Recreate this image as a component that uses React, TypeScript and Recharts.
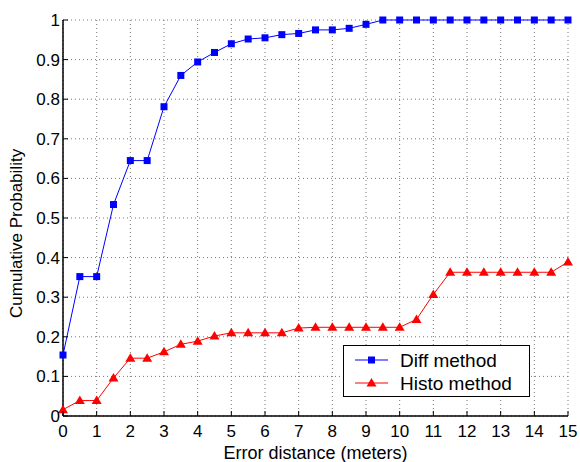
import React from 'react';
import { LineChart, Line, XAxis, YAxis, CartesianGrid } from 'recharts';

const distances = [0, 0.5, 1, 1.5, 2, 2.5, 3, 3.5, 4, 4.5, 5, 5.5, 6, 6.5, 7, 7.5, 8, 8.5, 9, 9.5, 10, 10.5, 11, 11.5, 12, 12.5, 13, 13.5, 14, 14.5, 15];
const diffMethod = [0.154, 0.352, 0.352, 0.534, 0.645, 0.645, 0.781, 0.86, 0.894, 0.918, 0.94, 0.952, 0.955, 0.963, 0.966, 0.975, 0.975, 0.979, 0.989, 1, 1, 1, 1, 1, 1, 1, 1, 1, 1, 1, 1];
const histoMethod = [0.016, 0.039, 0.039, 0.096, 0.146, 0.146, 0.162, 0.181, 0.189, 0.202, 0.21, 0.21, 0.21, 0.21, 0.222, 0.224, 0.224, 0.224, 0.224, 0.224, 0.224, 0.244, 0.307, 0.363, 0.363, 0.363, 0.363, 0.363, 0.363, 0.363, 0.389];
const xTicks = [0, 1, 2, 3, 4, 5, 6, 7, 8, 9, 10, 11, 12, 13, 14, 15];
const yTicks = [0, 0.1, 0.2, 0.3, 0.4, 0.5, 0.6, 0.7, 0.8, 0.9, 1];

const rows = distances.map((d, i) => ({ d, diff: diffMethod[i], histo: histoMethod[i] }));

const FONT = '"Liberation Sans", Arial, sans-serif';
const TICK_LEN = 5;

const fmtY = (v: number) => (v === 0 ? '0' : v === 1 ? '1' : v.toFixed(1));

// MATLAB-ish ticks: marks point inward
const BottomTick = (props: any) => {
  const { x, y, payload } = props;
  const axisY = y - 4;
  return (
    <g>
      <line x1={x} y1={axisY} x2={x} y2={axisY - TICK_LEN} stroke="#000" />
      <text x={x} y={axisY + 21} textAnchor="middle" fontSize={17} fontFamily={FONT} fill="#000">
        {payload.value}
      </text>
    </g>
  );
};

const LeftTick = (props: any) => {
  const { x, y, payload } = props;
  const axisX = x + 3;
  return (
    <g>
      <line x1={axisX} y1={y} x2={axisX + TICK_LEN} y2={y} stroke="#000" />
      <text x={axisX - 3} y={y + 6} textAnchor="end" fontSize={17} fontFamily={FONT} fill="#000">
        {fmtY(payload.value)}
      </text>
    </g>
  );
};

const TopTick = (props: any) => {
  const { x, y } = props;
  return <line x1={x} y1={y} x2={x} y2={y + TICK_LEN} stroke="#000" />;
};

const RightTick = (props: any) => {
  const { x, y } = props;
  return <line x1={x} y1={y} x2={x - TICK_LEN} y2={y} stroke="#000" />;
};

const Square = (props: any) => {
  const { cx, cy } = props;
  if (cx == null || cy == null) return null;
  return <rect x={cx - 3.5} y={cy - 3.5} width={7} height={7} fill="#0000ff" />;
};

const Triangle = (props: any) => {
  const { cx, cy } = props;
  if (cx == null || cy == null) return null;
  return <path d={`M${cx},${cy - 5} L${cx + 5},${cy + 3.5} L${cx - 5},${cy + 3.5} Z`} fill="#ff0000" />;
};

const LegendBox = () => (
  <div
    style={{
      position: 'absolute',
      left: 343,
      top: 345,
      width: 187,
      height: 52,
      border: '1.5px solid #000',
      background: '#fff',
      boxSizing: 'border-box',
    }}
  >
    <svg width={184} height={49} style={{ display: 'block' }}>
      <line x1={11} y1={14} x2={44} y2={14} stroke="#0000ff" />
      <rect x={24} y={10.5} width={7} height={7} fill="#0000ff" />
      <text x={56} y={21} fontSize={19} fontFamily={FONT}>Diff method</text>
      <line x1={11} y1={37} x2={44} y2={37} stroke="#ff0000" />
      <path d="M27.5,32 L32.5,40.5 L22.5,40.5 Z" fill="#ff0000" />
      <text x={56} y={44} fontSize={19} fontFamily={FONT}>Histo method</text>
    </svg>
  </div>
);

export default function App() {
  return (
    <div style={{ position: 'absolute', left: 0, top: 0, width: 580, height: 462, background: '#fff' }}>
      <LineChart width={580} height={462} data={rows} margin={{ top: 20, right: 12, bottom: 6, left: 13 }}>
        <CartesianGrid xAxisId="b" yAxisId="l" stroke="#777" strokeDasharray="1 3" />
        <XAxis
          xAxisId="b"
          dataKey="d"
          type="number"
          domain={[0, 15]}
          ticks={xTicks}
          interval={0}
          height={40}
          tickSize={0}
          tickMargin={4}
          tick={<BottomTick />}
          axisLine={{ stroke: '#000', strokeWidth: 1.5 }}
          label={{ value: 'Error distance (meters)', position: 'insideBottom', offset: -2.5, fontSize: 18, fontFamily: FONT, fill: '#000' }}
        />
        <XAxis
          xAxisId="t"
          orientation="top"
          dataKey="d"
          type="number"
          domain={[0, 15]}
          ticks={xTicks}
          height={0}
          tickSize={0}
          tickMargin={0}
          tick={<TopTick />}
          axisLine={{ stroke: '#000', strokeWidth: 1.5 }}
        />
        <YAxis
          yAxisId="l"
          type="number"
          domain={[0, 1]}
          ticks={yTicks}
          interval={0}
          width={50}
          tickSize={0}
          tickMargin={3}
          tick={<LeftTick />}
          axisLine={{ stroke: '#000', strokeWidth: 1.5 }}
          label={{ value: 'Cumulative Probability', angle: -90, position: 'insideLeft', offset: 3, dy: 100, fontSize: 17, fontFamily: FONT, fill: '#000' }}
        />
        <YAxis
          yAxisId="r"
          orientation="right"
          type="number"
          domain={[0, 1]}
          ticks={yTicks}
          width={0}
          tickSize={0}
          tickMargin={0}
          tick={<RightTick />}
          axisLine={{ stroke: '#000', strokeWidth: 1.5 }}
        />
        <Line
          xAxisId="b"
          yAxisId="l"
          dataKey="diff"
          name="Diff method"
          stroke="#0000ff"
          strokeWidth={1}
          dot={<Square />}
          isAnimationActive={false}
        />
        <Line
          xAxisId="b"
          yAxisId="l"
          dataKey="histo"
          name="Histo method"
          stroke="#ff0000"
          strokeWidth={1}
          dot={<Triangle />}
          isAnimationActive={false}
        />
      </LineChart>
      <LegendBox />
    </div>
  );
}
